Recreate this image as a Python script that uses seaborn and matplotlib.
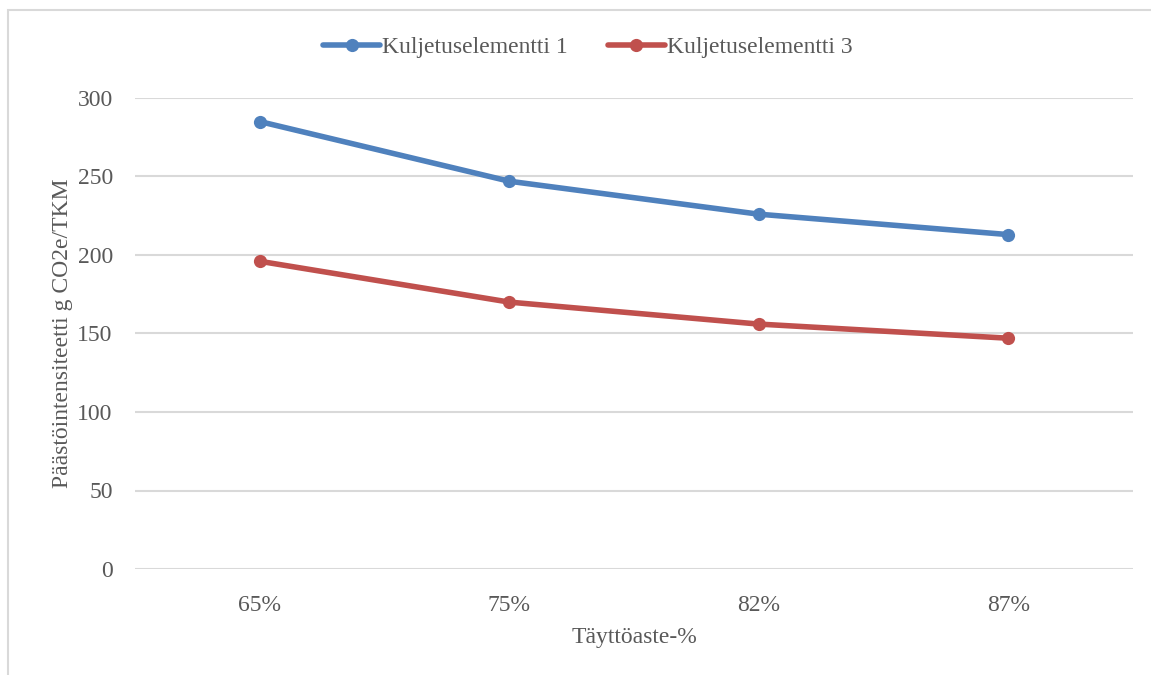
import matplotlib
matplotlib.use("Agg")
import matplotlib.pyplot as plt
from matplotlib.patches import Rectangle
import seaborn as sns
import pandas as pd

categories = ["65%", "75%", "82%", "87%"]
series_names = ["Kuljetuselementti 1", "Kuljetuselementti 3"]
values_1 = [285, 247, 226, 213]
values_3 = [196, 170, 156, 147]
y_ticks = [0, 50, 100, 150, 200, 250, 300]

df = pd.DataFrame({
    "cat": list(range(len(categories))) * 2,
    "value": values_1 + values_3,
    "series": [series_names[0]] * 4 + [series_names[1]] * 4,
})

sns.set_theme(style="white")
plt.rcParams["font.family"] = ["Liberation Serif", "DejaVu Serif"]
text_color = "#595959"
grid_color = "#D9D9D9"
palette = {series_names[0]: "#4F81BD", series_names[1]: "#C0504D"}
fs = 17

fig = plt.figure(figsize=(11.51, 6.75), dpi=100)
ax = fig.add_axes([135 / 1151, 1 - 569 / 675, (1133 - 135) / 1151, (569 - 98) / 675])

# chart frame
fig.patches.append(Rectangle((8 / 1151, -0.1), 1.2, 1 - 10 / 675 + 0.1,
                             transform=fig.transFigure, fill=False,
                             edgecolor=grid_color, linewidth=1.5, zorder=0))

sns.lineplot(data=df, x="cat", y="value", hue="series", palette=palette,
             marker="o", markersize=9.5, markeredgewidth=0, linewidth=4.0,
             ax=ax, legend=False, zorder=3)

ax.set_xlim(-0.5, len(categories) - 0.5)
ax.set_ylim(0, 300)
ax.set_yticks(y_ticks)
ax.set_xticks(range(len(categories)))
ax.set_xticklabels(categories)
ax.yaxis.grid(True, color=grid_color, linewidth=1.5)
ax.xaxis.grid(False)
for s in ax.spines.values():
    s.set_visible(False)
ax.tick_params(axis="both", length=0, labelsize=fs, colors=text_color)
ax.tick_params(axis="y", pad=16)
ax.tick_params(axis="x", pad=19)

ax.set_xlabel("Täyttöaste-%", fontsize=fs, color=text_color, labelpad=8)
ax.set_ylabel("Päästöintensiteetti g CO2e/TKM", fontsize=fs, color=text_color, labelpad=3)

handles = [plt.Line2D([], [], color=palette[n], marker="o", markersize=9.5,
                      markeredgewidth=0, linewidth=4.0) for n in series_names]
fig.legend(handles, series_names, loc="center", bbox_to_anchor=(588 / 1151, 1 - 47 / 675),
           ncol=2, frameon=False, fontsize=fs, labelcolor=text_color,
           handlelength=2.4, handletextpad=0.1, columnspacing=1.7)

fig.savefig("out.png", dpi=100, facecolor="white")
